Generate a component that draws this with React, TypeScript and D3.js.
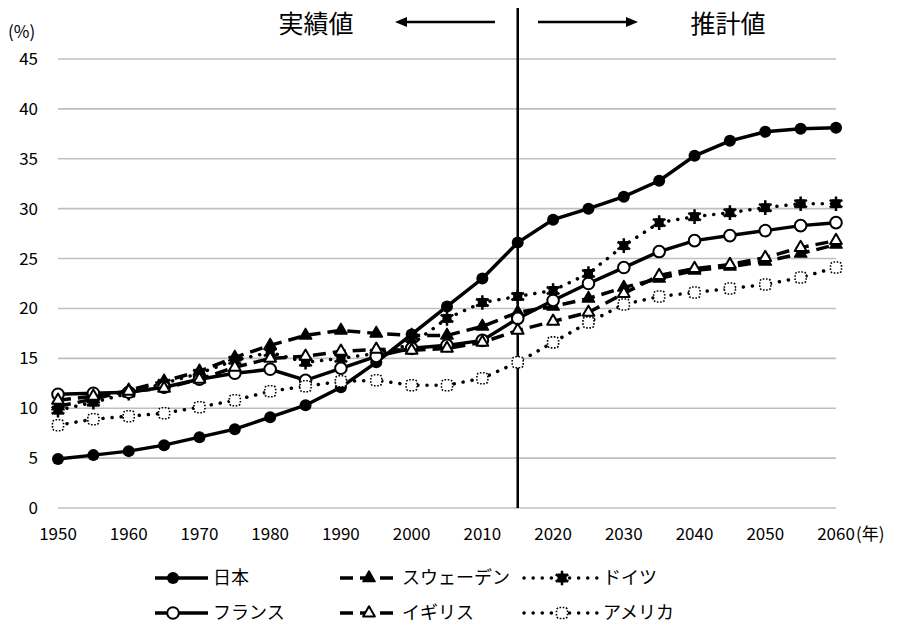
import * as d3 from "d3";

const years = [
  1950, 1955, 1960, 1965, 1970, 1975, 1980, 1985, 1990, 1995, 2000, 2005,
  2010, 2015, 2020, 2025, 2030, 2035, 2040, 2045, 2050, 2055, 2060,
];

const japan = [4.9, 5.3, 5.7, 6.3, 7.1, 7.9, 9.1, 10.3, 12.1, 14.6, 17.4, 20.2, 23.0, 26.6, 28.9, 30.0, 31.2, 32.8, 35.3, 36.8, 37.7, 38.0, 38.1];
const sweden = [10.2, 10.9, 11.8, 12.7, 13.7, 15.1, 16.3, 17.3, 17.8, 17.5, 17.3, 17.3, 18.2, 19.6, 20.2, 21.0, 22.1, 23.0, 23.8, 24.2, 24.7, 25.5, 26.4];
const germany = [9.8, 10.6, 11.5, 12.5, 13.5, 14.8, 15.6, 14.6, 15.0, 15.5, 16.4, 19.0, 20.6, 21.2, 21.8, 23.5, 26.3, 28.6, 29.2, 29.6, 30.1, 30.5, 30.5];
const france = [11.4, 11.5, 11.6, 12.1, 12.9, 13.5, 13.9, 12.8, 14.0, 15.2, 16.0, 16.3, 16.8, 19.0, 20.8, 22.5, 24.1, 25.7, 26.8, 27.3, 27.8, 28.3, 28.6];
const uk = [10.8, 11.2, 11.7, 12.0, 12.9, 14.1, 15.0, 15.2, 15.7, 15.9, 15.8, 16.0, 16.6, 17.8, 18.7, 19.6, 21.5, 23.3, 24.0, 24.4, 25.1, 26.1, 26.8];
const usa = [8.3, 8.9, 9.2, 9.5, 10.1, 10.8, 11.7, 12.2, 12.7, 12.8, 12.3, 12.3, 13.0, 14.6, 16.6, 18.6, 20.4, 21.2, 21.6, 22.0, 22.4, 23.1, 24.1];

const yTicks = [0, 5, 10, 15, 20, 25, 30, 35, 40, 45];
const xTicks = [1950, 1960, 1970, 1980, 1990, 2000, 2010, 2020, 2030, 2040, 2050, 2060];
const splitYear = 2015;

type Style = "solid" | "dash" | "dot";
type Marker = "dot" | "ring" | "tri" | "openTri" | "star" | "dotSquare";

const series: { name: string; values: number[]; style: Style; marker: Marker }[] = [
  { name: "日本", values: japan, style: "solid", marker: "dot" },
  { name: "スウェーデン", values: sweden, style: "dash", marker: "tri" },
  { name: "ドイツ", values: germany, style: "dot", marker: "star" },
  { name: "フランス", values: france, style: "solid", marker: "ring" },
  { name: "イギリス", values: uk, style: "dash", marker: "openTri" },
  { name: "アメリカ", values: usa, style: "dot", marker: "dotSquare" },
];

const W = 898;
const H = 633;
const font = "'Noto Sans CJK JP', 'Noto Sans', sans-serif";

const x = d3.scaleLinear().domain([1950, 2060]).range([58, 836]);
const y = d3.scaleLinear().domain([0, 45]).range([508, 59]);

function lineProps(style: Style) {
  if (style === "dash") return { strokeDasharray: "13,7", strokeLinecap: "butt" as const };
  if (style === "dot") return { strokeDasharray: "0.1,9", strokeLinecap: "round" as const };
  return { strokeDasharray: undefined, strokeLinecap: "butt" as const };
}

function MarkerShape({ kind, cx, cy }: { kind: Marker; cx: number; cy: number }) {
  const t = `translate(${cx},${cy})`;
  switch (kind) {
    case "dot":
      return <circle cx={cx} cy={cy} r={6} fill="#000" />;
    case "ring":
      return <circle cx={cx} cy={cy} r={5.8} fill="#fff" stroke="#000" strokeWidth={2} />;
    case "tri":
      return (
        <g transform={t}>
          <path d={d3.symbol(d3.symbolTriangle, 65)() ?? ""} fill="#000" stroke="#000" strokeWidth={1.5} strokeLinejoin="round" />
        </g>
      );
    case "openTri":
      return (
        <g transform={t}>
          <path d={d3.symbol(d3.symbolTriangle, 60)() ?? ""} fill="#fff" stroke="#000" strokeWidth={2} strokeLinejoin="round" />
        </g>
      );
    case "star":
      return (
        <g transform={t}>
          <rect x={-4.5} y={-4.5} width={9} height={9} fill="#000" />
          <path d={d3.symbol(d3.symbolAsterisk, 150)() ?? ""} stroke="#000" strokeWidth={2.5} fill="none" />
        </g>
      );
    case "dotSquare":
      return (
        <rect x={cx - 5.5} y={cy - 5.5} width={11} height={11} rx={3} fill="#fff" stroke="#000" strokeWidth={1.6} strokeDasharray="1.6,1.6" />
      );
  }
}

function Arrow({ x1, x2, yy }: { x1: number; x2: number; yy: number }) {
  const dir = Math.sign(x2 - x1);
  const head = 12;
  return (
    <g>
      <line x1={x1} y1={yy} x2={x2 - dir * head} y2={yy} stroke="#000" strokeWidth={2.5} />
      <path d={`M${x2},${yy} L${x2 - dir * head},${yy - 5} L${x2 - dir * head},${yy + 5} Z`} fill="#000" />
    </g>
  );
}

const legendCols = [155, 340, 524];
const legendRows = [578, 613];
const legendText = [213, 402, 603];

export default function App() {
  const line = d3
    .line<number>()
    .x((_, i) => x(years[i]))
    .y((d) => y(d));

  return (
    <div style={{ position: "absolute", left: 0, top: 0 }}>
      <svg width={W} height={H} style={{ display: "block", background: "#fff" }} fontFamily={font}>
        {/* grid */}
        {yTicks.map((t) => (
          <line key={t} x1={x(1950)} x2={x(2060)} y1={y(t)} y2={y(t)} stroke="#bfbfbf" strokeWidth={1.6} />
        ))}
        {yTicks.map((t) => (
          <text key={"l" + t} x={38} y={y(t)} dy="0.35em" textAnchor="end" fontSize={17}>
            {t}
          </text>
        ))}
        <text x={8} y={38} fontSize={17}>(%)</text>
        {xTicks.map((t) => (
          <text key={t} x={x(t)} y={534} dy="0.35em" textAnchor="middle" fontSize={17}>
            {t}
          </text>
        ))}
        <text x={x(2060) + 20} y={534} dy="0.35em" fontSize={17}>(年)</text>

        {/* split line and headings */}
        <line x1={x(splitYear)} x2={x(splitYear)} y1={8} y2={y(0)} stroke="#000" strokeWidth={2.5} />
        <text x={316} y={24} dy="0.35em" textAnchor="middle" fontSize={25}>実績値</text>
        <text x={728} y={24} dy="0.35em" textAnchor="middle" fontSize={25}>推計値</text>
        <Arrow x1={495} x2={395} yy={22} />
        <Arrow x1={538} x2={638} yy={22} />

        {/* series */}
        {series.map((s) => (
          <g key={s.name}>
            <path d={line(s.values) ?? ""} fill="none" stroke="#000" strokeWidth={3.5} {...lineProps(s.style)} />
            {s.values.map((v, i) => (
              <MarkerShape key={i} kind={s.marker} cx={x(years[i])} cy={y(v)} />
            ))}
          </g>
        ))}

        {/* legend */}
        {series.map((s, i) => {
          const col = i % 3;
          const lx = legendCols[col];
          const ly = legendRows[Math.floor(i / 3)];
          const len = s.style === "solid" ? 53 : s.style === "dash" ? 58 : 76;
          const mx = s.style === "solid" ? lx + 18 : lx + len / 2;
          return (
            <g key={"lg" + s.name}>
              <line x1={lx} x2={lx + len} y1={ly} y2={ly} stroke="#000" strokeWidth={3.5} {...lineProps(s.style)} />
              <MarkerShape kind={s.marker} cx={mx} cy={ly} />
              <text x={legendText[col]} y={ly} dy="0.35em" fontSize={18}>{s.name}</text>
            </g>
          );
        })}
      </svg>
    </div>
  );
}
